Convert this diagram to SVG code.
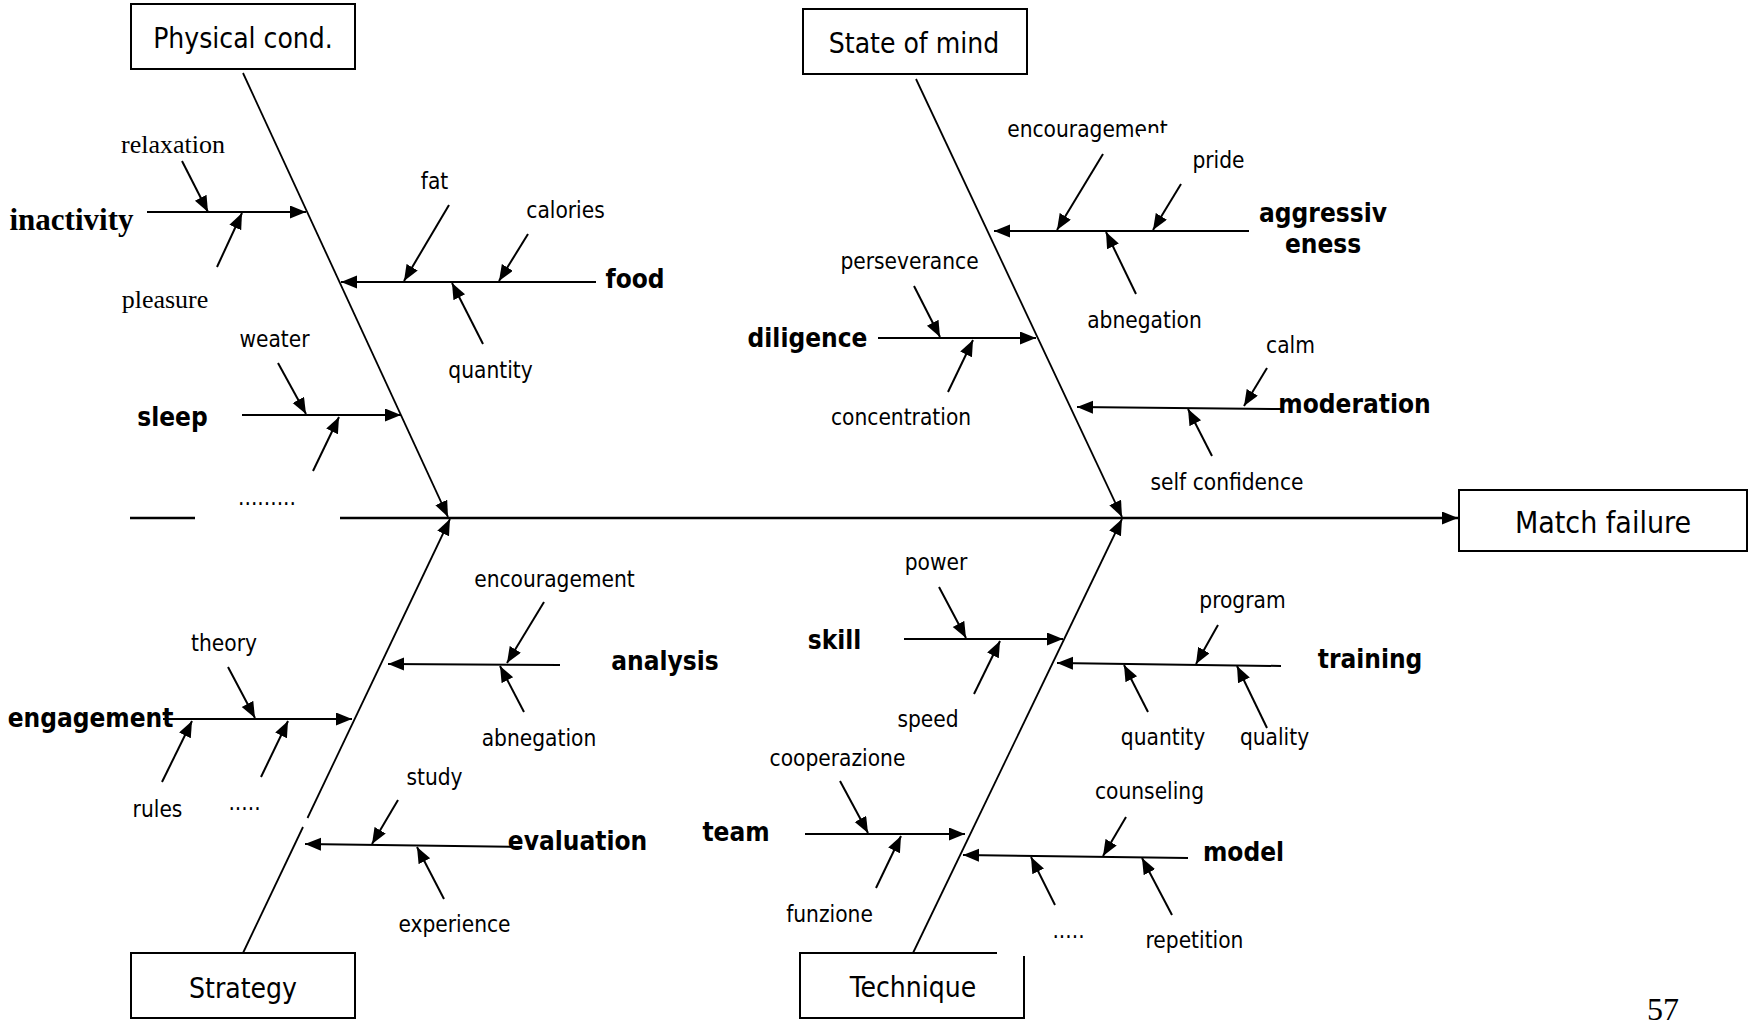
<svg xmlns="http://www.w3.org/2000/svg" width="1749" height="1025" viewBox="0 0 1749 1025">
<style>
.box{fill:#fff;stroke:#000;stroke-width:2}
.bt{font-family:'DejaVu Sans Condensed','DejaVu Sans',sans-serif;font-size:28px;text-anchor:middle;fill:#000}
.lb{font-family:'DejaVu Sans Condensed','DejaVu Sans',sans-serif;font-size:22.5px;text-anchor:middle;fill:#000}
.bl{font-family:'DejaVu Sans Condensed','DejaVu Sans',sans-serif;font-size:26px;font-weight:bold;text-anchor:middle;fill:#000}
.sf{font-family:'Liberation Serif',serif;font-size:26px;text-anchor:middle;fill:#000}
.sfb{font-family:'Liberation Serif',serif;font-size:31px;font-weight:bold;text-anchor:middle;fill:#000}
.c line,.c path{stroke:#000;stroke-width:2;fill:none}
.c .a{marker-end:url(#ah)}
.c .bone{stroke-width:1.8}
.c .main{stroke-width:2.5}
</style>
<defs>
<marker id="ah" markerUnits="userSpaceOnUse" markerWidth="17" markerHeight="14" refX="16" refY="6.5" orient="auto">
<path d="M0,0 L16,6.5 L0,13 z" fill="#000"/>
</marker>
<clipPath id="encclip">
<rect x="990" y="100" width="150" height="50"/>
<rect x="1138" y="100" width="50" height="33"/>
</clipPath>
</defs>
<rect width="1749" height="1025" fill="#fff"/>

<g id="connectors" class="c">
<!-- main spine -->
<line x1="130" y1="518" x2="195" y2="518" class="main"/>
<line x1="340" y1="518" x2="1458" y2="518" class="main a"/>
<!-- bones -->
<line x1="243" y1="73" x2="448" y2="517" class="bone a"/>
<line x1="916" y1="79" x2="1122" y2="517" class="bone a"/>
<line x1="243" y1="953" x2="303" y2="827" class="bone"/>
<line x1="307.5" y1="818" x2="450" y2="519" class="bone a"/>
<line x1="913" y1="953" x2="1122" y2="519" class="bone a"/>
<!-- branches -->
<line x1="147" y1="212" x2="306" y2="212" class="a"/>
<line x1="596" y1="282" x2="341" y2="282" class="a"/>
<line x1="242" y1="415" x2="401" y2="415" class="a"/>
<line x1="1249" y1="231" x2="994" y2="231" class="a"/>
<line x1="878" y1="338" x2="1036" y2="338" class="a"/>
<line x1="1282" y1="409" x2="1077" y2="407" class="a"/>
<line x1="163" y1="719" x2="352" y2="719" class="a"/>
<line x1="560" y1="665" x2="388" y2="664" class="a"/>
<line x1="520" y1="847" x2="305" y2="844" class="a"/>
<line x1="904" y1="639" x2="1063" y2="639" class="a"/>
<line x1="1281" y1="666" x2="1057" y2="663" class="a"/>
<line x1="805" y1="834" x2="965" y2="834" class="a"/>
<line x1="1188" y1="858" x2="963" y2="855" class="a"/>
<!-- sub causes -->
<line x1="182" y1="161" x2="208" y2="212" class="a"/>
<line x1="217" y1="267" x2="242" y2="213" class="a"/>
<line x1="449" y1="205" x2="404" y2="281" class="a"/>
<line x1="528" y1="234" x2="499" y2="281" class="a"/>
<line x1="483" y1="344" x2="452" y2="283" class="a"/>
<line x1="278" y1="363" x2="306" y2="414" class="a"/>
<line x1="313" y1="471" x2="339" y2="417" class="a"/>
<line x1="1103" y1="154" x2="1057" y2="230" class="a"/>
<line x1="1181" y1="184" x2="1153" y2="230" class="a"/>
<line x1="1136" y1="294" x2="1106" y2="232" class="a"/>
<line x1="914" y1="286" x2="940" y2="337" class="a"/>
<line x1="948" y1="392" x2="973" y2="340" class="a"/>
<line x1="1267" y1="368" x2="1244" y2="406" class="a"/>
<line x1="1212" y1="456" x2="1188" y2="409" class="a"/>
<line x1="228" y1="667" x2="255" y2="718" class="a"/>
<line x1="162" y1="782" x2="192" y2="721" class="a"/>
<line x1="261" y1="777" x2="288" y2="721" class="a"/>
<line x1="544" y1="602" x2="507" y2="663" class="a"/>
<line x1="524" y1="712" x2="500" y2="666" class="a"/>
<line x1="398" y1="800" x2="372" y2="844" class="a"/>
<line x1="444" y1="899" x2="417" y2="847" class="a"/>
<line x1="939" y1="587" x2="966" y2="638" class="a"/>
<line x1="974" y1="694" x2="1000" y2="641" class="a"/>
<line x1="840" y1="781" x2="868" y2="833" class="a"/>
<line x1="876" y1="888" x2="901" y2="836" class="a"/>
<line x1="1218" y1="625" x2="1196" y2="664" class="a"/>
<line x1="1148" y1="712" x2="1124" y2="665" class="a"/>
<line x1="1267" y1="728" x2="1237" y2="666" class="a"/>
<line x1="1126" y1="817" x2="1103" y2="856" class="a"/>
<line x1="1055" y1="905" x2="1031" y2="857" class="a"/>
<line x1="1172" y1="915" x2="1142" y2="858" class="a"/>
</g>

<g id="physical">
<rect class="box" x="131" y="4" width="224" height="65"/>
<text class="bt" x="243" y="48">Physical cond.</text>
</g>
<g id="state">
<rect class="box" x="803" y="9" width="224" height="65"/>
<text class="bt" x="914" y="53">State of mind</text>
</g>
<g id="strategy">
<rect class="box" x="131" y="953" width="224" height="65"/>
<text class="bt" x="243" y="998">Strategy</text>
</g>
<g id="technique">
<path d="M997,953 H800 V1018 H1024 V956" fill="#fff" stroke="#000" stroke-width="2"/>
<text class="bt" x="913" y="997">Technique</text>
</g>
<g id="effect">
<rect class="box" x="1459" y="490" width="288" height="61"/>
<text class="bt" x="1603" y="533" style="font-size:30px">Match failure</text>
</g>

<g id="labels">
<text class="sfb" x="71.5" y="230">inactivity</text>
<text class="sf" x="173" y="153">relaxation</text>
<text class="sf" x="165" y="308">pleasure</text>
<text class="lb" x="434.5" y="189">fat</text>
<text class="lb" x="565.5" y="218">calories</text>
<text class="bl" x="635" y="288">food</text>
<text class="lb" x="490.5" y="378">quantity</text>
<text class="lb" x="274.5" y="347">weater</text>
<text class="bl" x="172.5" y="426">sleep</text>
<text class="lb" x="267" y="505">.........</text>

<text class="lb" x="1087.5" y="137" clip-path="url(#encclip)">encouragement</text>
<text class="lb" x="1218.5" y="168">pride</text>
<text class="bl" x="1323" y="222">aggressiv</text>
<text class="bl" x="1323" y="253">eness</text>
<text class="lb" x="1144.5" y="328">abnegation</text>
<text class="lb" x="909.5" y="269">perseverance</text>
<text class="bl" x="807.5" y="347">diligence</text>
<text class="lb" x="901" y="425">concentration</text>
<text class="lb" x="1290.5" y="353">calm</text>
<text class="bl" x="1354.5" y="413">moderation</text>
<text class="lb" x="1227" y="490">self confidence</text>

<text class="lb" x="224" y="651">theory</text>
<text class="bl" x="90.5" y="727">engagement</text>
<text class="lb" x="157.5" y="817">rules</text>
<text class="lb" x="244.5" y="810">.....</text>
<text class="lb" x="554.5" y="587">encouragement</text>
<text class="bl" x="665" y="670">analysis</text>
<text class="lb" x="539" y="746">abnegation</text>
<text class="lb" x="434.5" y="785">study</text>
<text class="bl" x="577.5" y="850">evaluation</text>
<text class="lb" x="454.5" y="932">experience</text>

<text class="lb" x="936" y="570">power</text>
<text class="bl" x="834.5" y="649">skill</text>
<text class="lb" x="928" y="727">speed</text>
<text class="lb" x="837.5" y="766">cooperazione</text>
<text class="bl" x="736" y="841">team</text>
<text class="lb" x="829.5" y="922">funzione</text>
<text class="lb" x="1242.5" y="608">program</text>
<text class="bl" x="1370" y="668">training</text>
<text class="lb" x="1163" y="745">quantity</text>
<text class="lb" x="1274.5" y="745">quality</text>
<text class="lb" x="1149.5" y="799">counseling</text>
<text class="bl" x="1243.5" y="861">model</text>
<text class="lb" x="1068.5" y="938">.....</text>
<text class="lb" x="1194.5" y="948">repetition</text>

<text class="sf" x="1663" y="1020" style="font-size:32px">57</text>
</g>
</svg>
